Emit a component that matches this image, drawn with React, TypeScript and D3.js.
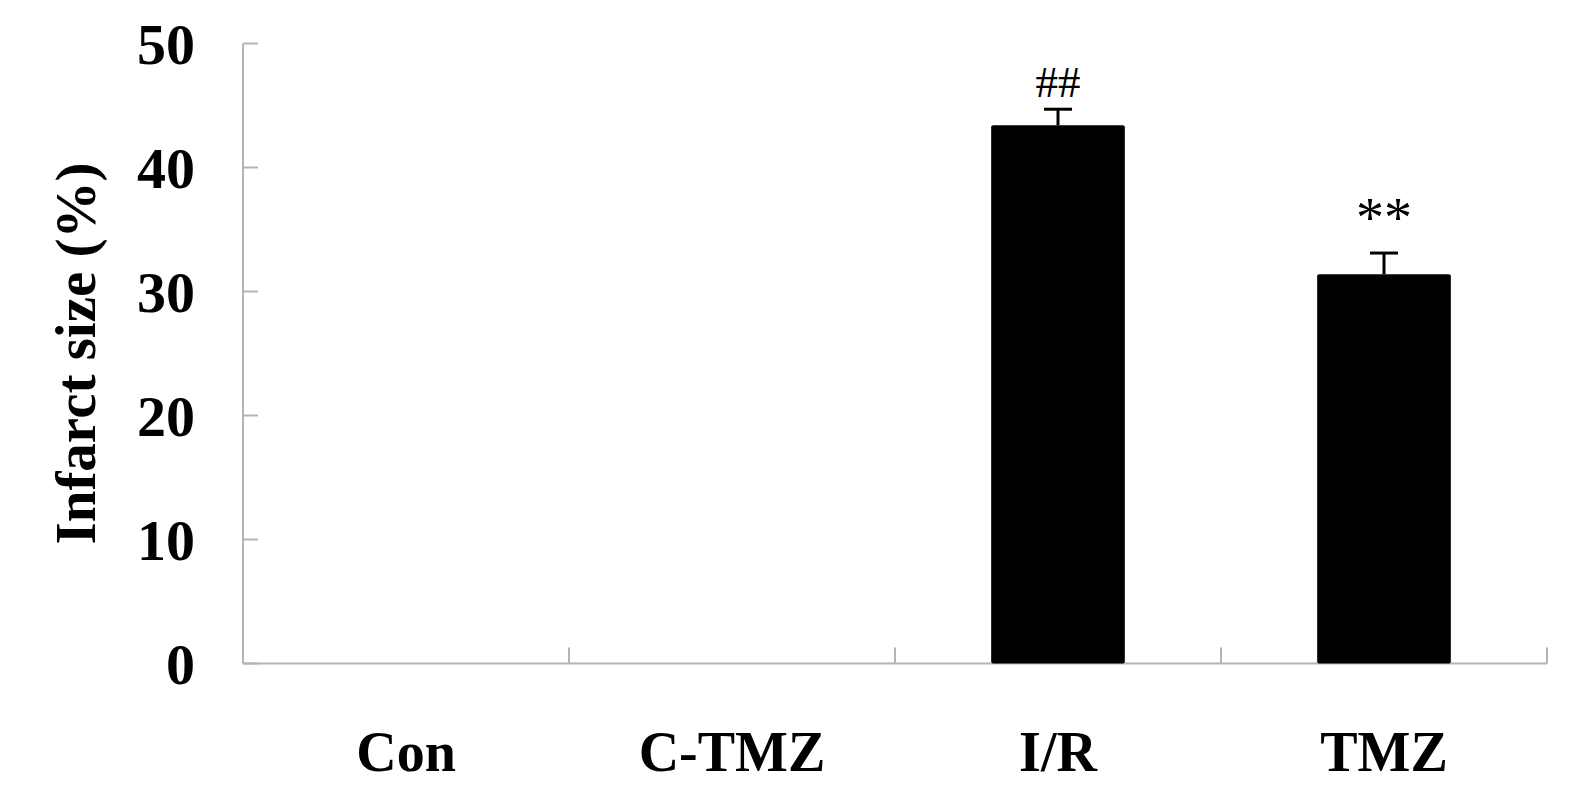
import React, { useEffect, useRef } from "react";
import * as d3 from "d3";

// values
const groups = ["Con", "C-TMZ", "I/R", "TMZ"];
const means = [0, 0, 43.4, 31.4];
const errors = [0, 0, 1.3, 1.7];
const marks = ["", "", "##", "**"];
const yTicks = [0, 10, 20, 30, 40, 50];

export default function App() {
    const ref = useRef<SVGSVGElement>(null);

    useEffect(() => {
        const width = 1575, height = 801;
        const margin = { top: 43.5, right: 28, bottom: 137.5, left: 243 };
        const font = "'Liberation Serif', 'Times New Roman', serif";
        const axisColor = "#b4b4b4";

        const svg = d3.select(ref.current);
        svg.selectAll("*").remove();

        const x = d3.scaleBand()
            .domain(groups)
            .range([margin.left, width - margin.right])
            .paddingInner(0.59)
            .paddingOuter(0.295);

        const y = d3.scaleLinear()
            .domain([0, 50])
            .range([height - margin.bottom, margin.top]);

        // category separators (band edges)
        const step = (width - margin.right - margin.left) / groups.length;
        const edges = d3.range(1, groups.length + 1).map(i => margin.left + i * step);

        // axes lines
        svg.append("line")
            .attr("x1", margin.left).attr("x2", margin.left)
            .attr("y1", y(50)).attr("y2", y(0))
            .attr("stroke", axisColor).attr("stroke-width", 2);
        svg.append("line")
            .attr("x1", margin.left).attr("x2", width - margin.right)
            .attr("y1", y(0)).attr("y2", y(0))
            .attr("stroke", axisColor).attr("stroke-width", 2);

        // y ticks point inwards
        svg.selectAll(".ytick")
            .data(yTicks)
            .join("line")
            .attr("x1", margin.left).attr("x2", margin.left + 15)
            .attr("y1", d => y(d)).attr("y2", d => y(d))
            .attr("stroke", axisColor).attr("stroke-width", 2);

        svg.selectAll(".ylab")
            .data(yTicks)
            .join("text")
            .attr("x", 195)
            .attr("y", d => y(d))
            .attr("dy", "0.35em")
            .attr("text-anchor", "end")
            .style("font-family", font)
            .style("font-weight", "bold")
            .style("font-size", "58px")
            .text(d => d);

        // x ticks between categories, pointing up
        svg.selectAll(".xtick")
            .data(edges)
            .join("line")
            .attr("x1", d => d).attr("x2", d => d)
            .attr("y1", y(0)).attr("y2", y(0) - 16)
            .attr("stroke", axisColor).attr("stroke-width", 2);

        svg.selectAll(".xlab")
            .data(groups)
            .join("text")
            .attr("x", d => x(d)! + x.bandwidth() / 2)
            .attr("y", 771)
            .attr("text-anchor", "middle")
            .style("font-family", font)
            .style("font-weight", "bold")
            .style("font-size", "56px")
            .text(d => d);

        // y axis title
        svg.append("text")
            .attr("transform", `translate(95, ${(y(0) + y(50)) / 2}) rotate(-90)`)
            .attr("text-anchor", "middle")
            .style("font-family", font)
            .style("font-weight", "bold")
            .style("font-size", "57px")
            .text("Infarct size (%)");

        const data = groups.map((g, i) => ({ g, m: means[i], e: errors[i], mark: marks[i] }));
        const shown = data.filter(d => d.m > 0);

        // error bars (upper only)
        shown.forEach(d => {
            const cx = x(d.g)! + x.bandwidth() / 2;
            svg.append("line")
                .attr("x1", cx).attr("x2", cx)
                .attr("y1", y(d.m)).attr("y2", y(d.m + d.e))
                .attr("stroke", "#000").attr("stroke-width", 3);
            svg.append("line")
                .attr("x1", cx - 14).attr("x2", cx + 14)
                .attr("y1", y(d.m + d.e)).attr("y2", y(d.m + d.e))
                .attr("stroke", "#000").attr("stroke-width", 3);
            svg.append("text")
                .attr("x", cx)
                .attr("y", y(d.m + d.e) - (d.mark === "##" ? 12 : 16))
                .attr("text-anchor", "middle")
                .style("font-family", font)
                .style("font-size", d.mark === "##" ? "45px" : "56px")
                .text(d.mark);
        });

        svg.selectAll(".bar")
            .data(shown)
            .join("rect")
            .attr("x", d => x(d.g)!)
            .attr("y", d => y(d.m))
            .attr("width", x.bandwidth())
            .attr("height", d => y(0) - y(d.m))
            .attr("rx", 2)
            .attr("fill", "#000");
    }, []);

    return (
        <svg ref={ref} width={1575} height={801}
            style={{ position: "absolute", left: 0, top: 0, background: "#fff" }} />
    );
}
